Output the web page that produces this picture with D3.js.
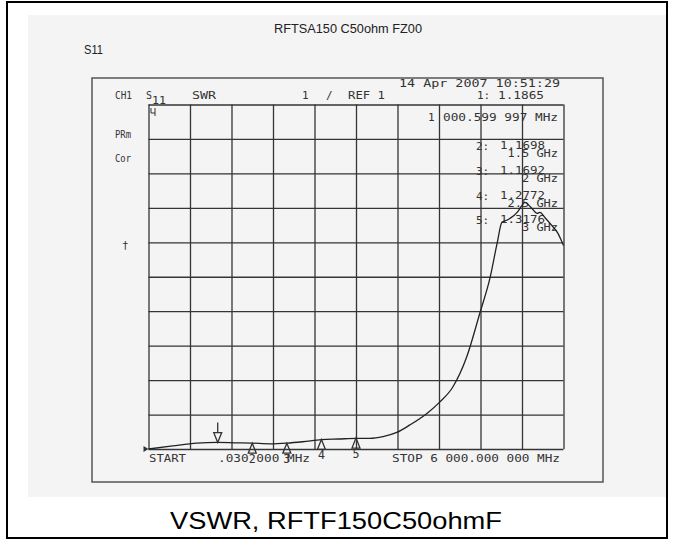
<!DOCTYPE html>
<html>
<head>
<meta charset="utf-8">
<script src="https://cdn.jsdelivr.net/npm/d3@7"></script>
<style>
body { margin: 0; background: #fff; }
svg { display: block; }
</style>
</head>
<body>
<svg width="673" height="541"></svg>
<script>
// trace: frequency (GHz) vs SWR
const freqGHz = [0.00003, 0.35, 0.70, 1.00, 1.25, 1.50, 1.76, 2.00, 2.23, 2.50, 2.75, 3.00, 3.20, 3.39, 3.59, 3.78,
	4.03, 4.21, 4.40, 4.60, 4.79, 4.94, 5.04, 5.11, 5.18, 5.23, 5.33, 5.40, 5.44, 5.54, 5.62, 5.66, 5.73, 5.83, 5.92, 5.98, 6.00]
const swrValues = [1.00, 1.09, 1.17, 1.19, 1.18, 1.17, 1.15, 1.17, 1.21, 1.27, 1.29, 1.31, 1.31, 1.36, 1.48, 1.70,
	2.04, 2.36, 2.80, 3.67, 4.94, 5.99, 6.97, 7.58, 7.64, 7.70, 7.87, 8.07, 8.16, 7.99, 7.84, 7.87, 7.72, 7.49, 7.26, 7.00, 6.91]

const markerIds = [1, 2, 3, 4, 5]
const markerFreqGHz = [1.0006, 1.5, 2.0, 2.5, 3.0]
const markerSwr = [1.1865, 1.1698, 1.1692, 1.2772, 1.3176]
const markerValueLabels = ["1.1865", "1.1698", "1.1692", "1.2772", "1.3176"]
const markerFreqLabels = ["000.599 997 MHz", "1.5 GHz", "2 GHz", "2.5 GHz", "3 GHz"]

const xDivisions = d3.range(0, 6.001, 0.6)
const yDivisions = d3.range(1, 11.001, 1)

const title = "RFTSA150 C50ohm FZ00"
const caption = "VSWR, RFTF150C50ohmF"

var svg = d3.select("svg")
var ink = "#333"
var mono = "'DejaVu Sans Mono', 'Liberation Mono', monospace"
var sans = "'Liberation Sans', Arial, sans-serif"

var x = d3.scaleLinear().domain([0, 6]).range([148.5, 563.5])
var y = d3.scaleLinear().domain([1, 11]).range([449, 104.5])

// scanned paper + outer frame
svg.append("rect")
	.attr("x", 28).attr("y", 15).attr("width", 639).attr("height", 482)
	.attr("fill", "#f4f4f4")
svg.append("rect")
	.attr("x", 7).attr("y", 2).attr("width", 660).attr("height", 536)
	.attr("fill", "none").attr("stroke", "#000").attr("stroke-width", 2)

function txt(s, tx, ty, w, size, family, fill) {
	var t = svg.append("text")
		.attr("x", tx).attr("y", ty)
		.attr("font-family", family || mono)
		.attr("font-size", size || 11)
		.attr("fill", fill || ink)
		.text(s)
	if (w) t.attr("textLength", w).attr("lengthAdjust", "spacingAndGlyphs")
	return t
}

// page titles
txt(title, 274, 33, 148, 12.5, sans, "#222")
txt("S11", 84, 54, 19, 12.5, sans, "#222")
txt(caption, 170, 529, 332, 24, sans, "#000")

// printout box
svg.append("rect")
	.attr("x", 92).attr("y", 78).attr("width", 511).attr("height", 404)
	.attr("fill", "none").attr("stroke", "#555").attr("stroke-width", 1.5)

// grid through the axes
var gridH = y(1) - y(11)
var gx = svg.append("g")
	.attr("transform", "translate(0," + y(1) + ")")
	.call(d3.axisBottom(x).tickValues(xDivisions).tickSize(-gridH).tickFormat(""))
var gy = svg.append("g")
	.attr("transform", "translate(" + x(0) + ",0)")
	.call(d3.axisLeft(y).tickValues(yDivisions).tickSize(-(x(6) - x(0))).tickFormat(""))
gx.select(".domain").remove()
gy.select(".domain").remove()
svg.selectAll(".tick line").attr("stroke", "#353535").attr("stroke-width", 1.3)

// header
txt("14 Apr 2007  10:51:29", 399, 87, 161)
txt("CH1", 115, 99, 17)
txt("S", 146, 99, 6)
txt("11", 152, 104, 14)
txt("SWR", 192, 99, 24)
txt("1", 302, 99)
txt("/", 326, 99)
txt("REF 1", 348, 99, 37)
txt("1:", 477, 99)
txt(markerValueLabels[0], 498, 99, 46)
txt("1", 428, 121)
txt(markerFreqLabels[0], 443, 121, 115)
txt("PRm", 115, 138, 16)
txt("Cor", 115, 162, 16)
txt("\u2020", 122, 249)

// small stimulus glyph in the first cell
svg.append("path")
	.attr("d", "M151,108 v5 h4 M155,108 v8")
	.attr("fill", "none").attr("stroke", ink).attr("stroke-width", 1)

// marker readouts 2..5
var rowY = [0, 150, 175, 200, 224]
for (var i = 1; i < markerIds.length; i++) {
	txt(markerIds[i] + ":", 476, rowY[i])
	txt(markerValueLabels[i], 500, rowY[i] - 1, 45)
	var fl = markerFreqLabels[i]
	var w = fl.length * 7.2
	txt(fl, 558 - w, rowY[i] + 7, w)
}

// bottom annotations
txt("START", 149, 462, 37)
txt(".030 000 MHz", 218, 462, 92)
txt("STOP 6 000.000 000 MHz", 392, 462, 168)

// trace
var line = d3.line()
	.x(function (d, i) { return x(freqGHz[i]) })
	.y(function (d, i) { return y(swrValues[i]) })
	.curve(d3.curveMonotoneX)
svg.append("path")
	.datum(swrValues)
	.attr("d", line)
	.attr("fill", "none").attr("stroke", "#222").attr("stroke-width", 1.3)

// reference position arrow
svg.append("path")
	.attr("d", "M" + (x(0) - 5) + "," + (y(1) - 3) + " L" + x(0) + "," + y(1) + " L" + (x(0) - 5) + "," + (y(1) + 3) + "Z")
	.attr("fill", ink)

// markers
markerIds.forEach(function (id, i) {
	var mx = x(markerFreqGHz[i]), my = y(markerSwr[i])
	if (id === 1) {
		svg.append("path")
			.attr("d", "M" + mx + "," + (my - 20) + " V" + (my - 10) +
				" M" + (mx - 4) + "," + (my - 10) + " L" + mx + "," + my + " L" + (mx + 4) + "," + (my - 10) + "Z")
			.attr("fill", "none").attr("stroke", ink).attr("stroke-width", 1.3)
	} else {
		svg.append("path")
			.attr("d", "M" + mx + "," + my + " L" + (mx - 4) + "," + (my + 10) + " L" + (mx + 4) + "," + (my + 10) + "Z")
			.attr("fill", "none").attr("stroke", ink).attr("stroke-width", 1.3)
		txt(String(id), mx - 3.5, my + 20, 7, 12)
	}
})
</script>
</body>
</html>
